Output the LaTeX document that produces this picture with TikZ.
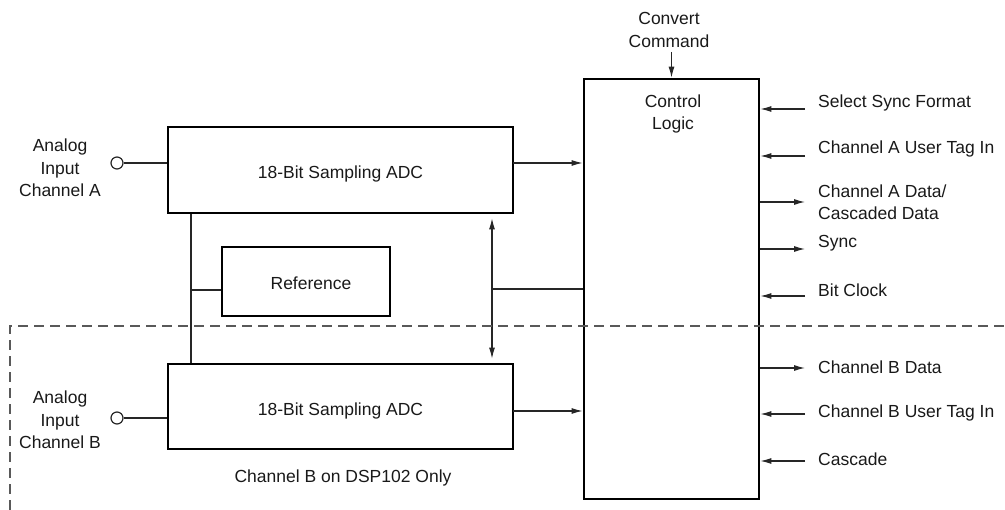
\documentclass[tikz,border=0pt]{standalone}
\usepackage{fontspec}
\setmainfont{Liberation Sans}
\usetikzlibrary{arrows.meta}
\begin{document}
\begin{tikzpicture}[x=1pt,y=-1pt,
  every node/.style={font=\fontsize{17.5}{22.5}\selectfont, text=black!90},
  blk/.style={draw=black, line width=2.6pt, inner sep=0pt},
  wire/.style={draw=black!85, line width=1.2pt},
  arr/.style={wire, -{Latex[length=11pt,width=6pt]}},
  darr/.style={wire, {Latex[length=11pt,width=6pt]}-{Latex[length=11pt,width=6pt]}},
  lbl/.style={align=center, inner sep=0pt},
  sig/.style={anchor=west, inner sep=0pt, align=left},
  term/.style={circle, draw=black!85, line width=1.2pt, minimum size=12pt, inner sep=0pt},
  sep/.style={draw=black!65, line width=1.1pt, dash pattern=on 10pt off 6pt}
]
\useasboundingbox (0,0) rectangle (1005,510);

% blocks
\node[blk, minimum width=345pt, minimum height=86pt] (adcA) at (340.5,170) {};
\node[lbl] (adcAt) at (340.5,174) {18-Bit Sampling ADC};
\node[blk, minimum width=345pt, minimum height=85pt] (adcB) at (340.5,406.5) {};
\node[lbl] (adcBt) at (340.5,411) {18-Bit Sampling ADC};
\node[blk, minimum width=168pt, minimum height=69pt] (ref) at (306,281.5) {};
\node[lbl] (reft) at (311,283) {Reference};
\node[blk, minimum width=175pt, minimum height=420pt] (ctrl) at (671.5,289) {};
\node[lbl] (ctrlt) at (673,114) {Control\\Logic};

% inputs
\node[term] (inA) at (117,163) {};
\node[lbl] (inAt) at (60,168) {Analog\\Input\\Channel A};
\node[term] (inB) at (117,418) {};
\node[lbl] (inBt) at (60,420) {Analog\\Input\\Channel B};
\draw[wire] (inA) -- (inA -| adcA.west);
\draw[wire] (inB) -- (inB -| adcB.west);

% ADC to control
\coordinate (oA) at (513,163);
\coordinate (oB) at (513,411);
\draw[arr] (oA) -- (oA -| ctrl.west);
\draw[arr] (oB) -- (oB -| ctrl.west);

% reference bus
\coordinate (bus) at (191,290);
\draw[wire] (bus |- adcA.south) -- (bus |- adcB.north);
\draw[wire] (bus) -- (bus -| ref.west);

% double arrow
\coordinate (dbl) at (492,289);
\draw[darr, shorten <=4pt, shorten >=4pt] (dbl |- adcA.south) -- (dbl |- adcB.north);
\draw[wire] (dbl) -- (dbl -| ctrl.west);

% convert command
\node[lbl] (conv) at (669,30) {Convert\\Command};
\coordinate (convs) at (671.5,52);
\draw[arr] (convs) -- (ctrl.north);

% right-side signals
\foreach \y/\ty/\t/\name in {109/103/{Select Sync Format}/s1, 156/149/{Channel A User Tag In}/s2,
  296/290/{Bit Clock}/s5, 414/413/{Channel B User Tag In}/s7, 461/459/{Cascade}/s8} {
  \coordinate (\name) at (805,\y);
  \node[sig] (\name t) at (818,\ty) {\t};
  \draw[arr] (\name) -- (\name -| ctrl.east);
}
\foreach \y/\ty/\t/\name in {202/202/{Channel A Data/\\Cascaded Data}/s3, 249/243/{Sync}/s4,
  368/367/{Channel B Data}/s6} {
  \coordinate (\name) at (805,\y);
  \node[sig] (\name t) at (818,\ty) {\t};
  \draw[arr] (\name -| ctrl.east) -- (\name);
}

% separation line
\draw[sep] (10,510) -- (10,326) -- (1005,326);
\node[lbl] (note) at (343,478) {Channel B on DSP102 Only};
\end{tikzpicture}
\end{document}
